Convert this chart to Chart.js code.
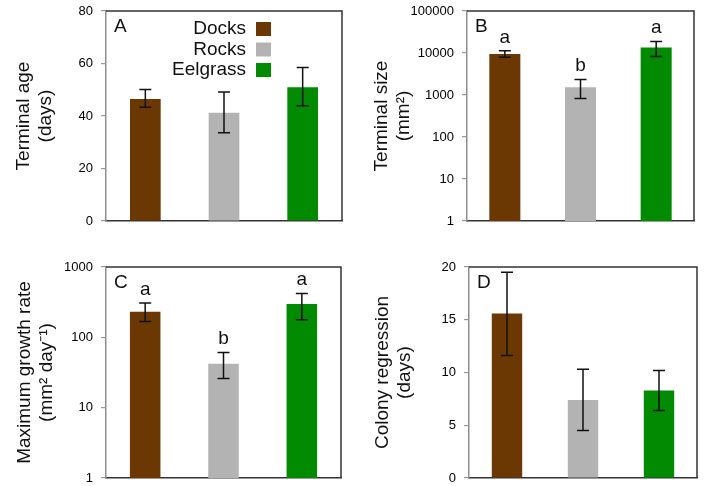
<!DOCTYPE html>
<html>
<head>
<meta charset="utf-8">
<script src="https://cdn.jsdelivr.net/npm/chart.js@4.4.1/dist/chart.umd.min.js"></script>
<style>
  html, body { margin: 0; padding: 0; background: #fff; }
  #wrap { position: relative; width: 704px; height: 486px; overflow: hidden; }
  .panel { position: absolute; width: 352px; height: 243px; }
</style>
</head>
<body>
<div id="wrap">
  <div class="panel" style="left:0;top:0"><canvas id="chartA"></canvas></div>
  <div class="panel" style="left:352px;top:0"><canvas id="chartB"></canvas></div>
  <div class="panel" style="left:0;top:243px"><canvas id="chartC"></canvas></div>
  <div class="panel" style="left:352px;top:243px"><canvas id="chartD"></canvas></div>
</div>
<script>
const habitats = ['Docks', 'Rocks', 'Eelgrass'];
const habitatColors = ['#6b3803', '#b3b3b3', '#028a02'];

// A - terminal age (days)
const ageMean = [46.5, 41.2, 51.0];
const ageLow = [43.3, 33.6, 43.9];
const ageHigh = [50.1, 49.1, 58.5];
const ageTicks = [0, 20, 40, 60, 80];

// B - terminal size (mm2), log scale
const sizeMean = [9500, 1520, 13600];
const sizeLow = [7900, 820, 8300];
const sizeHigh = [11300, 2350, 18900];
const sizeTicks = [1, 10, 100, 1000, 10000, 100000];
const sizeLetters = ['a', 'b', 'a'];

// C - maximum growth rate (mm2 day-1), log scale
const growthMean = [232, 42, 297];
const growthLow = [168, 26, 178];
const growthHigh = [307, 61, 421];
const growthTicks = [1, 10, 100, 1000];
const growthLetters = ['a', 'b', 'a'];

// D - colony regression (days)
const regressMean = [15.6, 7.4, 8.3];
const regressLow = [11.6, 4.5, 6.4];
const regressHigh = [19.5, 10.3, 10.2];
const regressTicks = [0, 5, 10, 15, 20];

const FONT = "'Liberation Sans', Arial, sans-serif";

// draws frame, error bars, panel letter, significance letters and legend
const extrasPlugin = {
    id: 'extras',
    afterDatasetsDraw(chart) {
        const o = chart.options.plugins.extras;
        const ctx = chart.ctx;
        const area = chart.chartArea;
        const yScale = chart.scales.y;
        const meta = chart.getDatasetMeta(0);
        ctx.save();

        // top and right border of the box
        ctx.strokeStyle = '#333';
        ctx.lineWidth = 1.5;
        ctx.beginPath();
        ctx.moveTo(area.left, area.top);
        ctx.lineTo(area.right, area.top);
        ctx.lineTo(area.right, area.bottom);
        ctx.stroke();

        // error bars
        ctx.strokeStyle = '#111';
        ctx.lineWidth = 1.5;
        meta.data.forEach((bar, i) => {
            const yLo = yScale.getPixelForValue(o.low[i]);
            const yHi = yScale.getPixelForValue(o.high[i]);
            ctx.beginPath();
            ctx.moveTo(bar.x, yLo);
            ctx.lineTo(bar.x, yHi);
            ctx.moveTo(bar.x - 6, yLo);
            ctx.lineTo(bar.x + 6, yLo);
            ctx.moveTo(bar.x - 6, yHi);
            ctx.lineTo(bar.x + 6, yHi);
            ctx.stroke();
        });

        ctx.fillStyle = '#111';
        ctx.font = '19px ' + FONT;

        // significance letters
        if (o.letters) {
            ctx.textAlign = 'center';
            ctx.textBaseline = 'alphabetic';
            meta.data.forEach((bar, i) => {
                const yHi = yScale.getPixelForValue(o.high[i]);
                ctx.fillText(o.letters[i], bar.x, yHi - 8);
            });
        }

        // panel letter
        ctx.textAlign = 'left';
        ctx.textBaseline = 'middle';
        ctx.fillText(o.tag, area.left + 8, area.top + 16);

        // legend
        if (o.legend) {
            const labels = chart.data.labels;
            const colors = chart.data.datasets[0].backgroundColor;
            labels.forEach((lab, i) => {
                const cy = area.top + 18 + i * 20.5;
                ctx.fillStyle = '#111';
                ctx.textAlign = 'right';
                ctx.fillText(lab, 246, cy);
                ctx.fillStyle = colors[i];
                ctx.fillRect(256, cy - 7, 15, 14);
            });
        }
        ctx.restore();
    }
};

function makePanel(id, p) {
    new Chart(document.getElementById(id), {
        type: 'bar',
        data: {
            labels: habitats,
            datasets: [{
                data: p.values,
                backgroundColor: habitatColors,
                borderWidth: 0,
                categoryPercentage: 1,
                barPercentage: p.barPct
            }]
        },
        options: {
            responsive: true,
            maintainAspectRatio: false,
            animation: false,
            layout: {
                autoPadding: false,
                padding: { left: 0, right: p.padRight, top: p.padTop, bottom: 0 }
            },
            scales: {
                x: {
                    grid: { display: false },
                    ticks: { display: false },
                    border: { display: true, color: '#333', width: 1.5 },
                    afterFit: s => { s.height = p.xHeight; s.paddingLeft = 0; s.paddingRight = 0; }
                },
                y: {
                    type: p.type,
                    min: p.ticks[0],
                    max: p.ticks[p.ticks.length - 1],
                    afterBuildTicks: s => { s.ticks = p.ticks.map(v => ({ value: v })); },
                    afterFit: s => { s.width = p.yWidth; s.paddingTop = 0; s.paddingBottom = 0; },
                    grid: {
                        drawOnChartArea: false,
                        drawTicks: true,
                        tickLength: 5,
                        color: '#999',
                        lineWidth: 1.2
                    },
                    border: { display: true, color: '#8f8f8f', width: 1.5 },
                    ticks: {
                        padding: 8,
                        color: '#000',
                        font: { family: FONT, size: 13 },
                        callback: v => String(v)
                    },
                    title: {
                        display: true,
                        text: p.title,
                        color: '#111',
                        font: { family: FONT, size: 19, lineHeight: 1.2 },
                        padding: { top: p.titlePad, bottom: 0 }
                    }
                }
            },
            plugins: {
                legend: { display: false },
                tooltip: { enabled: false },
                extras: {
                    low: p.low,
                    high: p.high,
                    letters: p.letters,
                    tag: p.tag,
                    legend: p.legend
                }
            }
        },
        plugins: [extrasPlugin]
    });
}

makePanel('chartA', {
    type: 'linear', values: ageMean, low: ageLow, high: ageHigh, ticks: ageTicks,
    title: ['Terminal age', '(days)'], tag: 'A', legend: true,
    yWidth: 106, padRight: 10, padTop: 11, xHeight: 22, barPct: 0.39, titlePad: 12
});
makePanel('chartB', {
    type: 'logarithmic', values: sizeMean, low: sizeLow, high: sizeHigh, ticks: sizeTicks,
    title: ['Terminal size', '(mm²)'], tag: 'B', letters: sizeLetters,
    yWidth: 115, padRight: 10, padTop: 11, xHeight: 22, barPct: 0.41, titlePad: 18
});
makePanel('chartC', {
    type: 'logarithmic', values: growthMean, low: growthLow, high: growthHigh, ticks: growthTicks,
    title: ['Maximum growth rate', '(mm² day⁻¹)'], tag: 'C', letters: growthLetters,
    yWidth: 106, padRight: 11, padTop: 24, xHeight: 8, barPct: 0.39, titlePad: 13
});
makePanel('chartD', {
    type: 'linear', values: regressMean, low: regressLow, high: regressHigh, ticks: regressTicks,
    title: ['Colony regression', '(days)'], tag: 'D',
    yWidth: 117, padRight: 7, padTop: 24, xHeight: 8, barPct: 0.40, titlePad: 19
});
</script>
</body>
</html>
